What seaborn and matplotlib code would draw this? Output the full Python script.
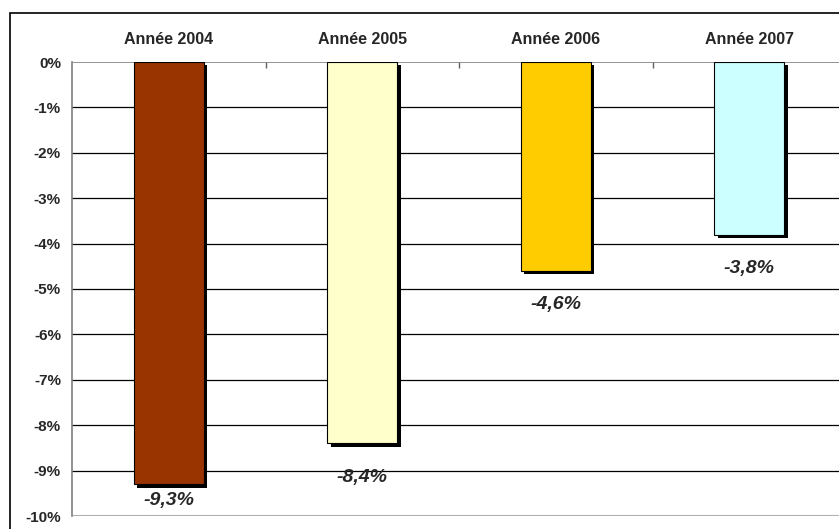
import matplotlib
matplotlib.use("Agg")
import matplotlib.pyplot as plt
import matplotlib.patheffects as pe
from matplotlib.patches import Rectangle
import seaborn as sns
import pandas as pd

categories = ["Année 2004", "Année 2005", "Année 2006", "Année 2007"]
values = [-9.3, -8.4, -4.6, -3.8]
colors = ["#993300", "#FFFFCC", "#FFCC00", "#CCFFFF"]
y_ticks = [0, -1, -2, -3, -4, -5, -6, -7, -8, -9, -10]

sns.set_style("white")
plt.rcParams["font.family"] = ["Liberation Sans", "DejaVu Sans"]

W, H = 839, 529
fig = plt.figure(figsize=(W / 100, H / 100), dpi=100)
ax = fig.add_axes([72 / W, 1 - 516 / H, 774 / W, (516 - 62) / H])

df = pd.DataFrame({"cat": categories, "val": values})
sns.barplot(data=df, x="cat", y="val", hue="cat", palette=colors,
            saturation=1, legend=False, width=0.36, edgecolor="black",
            linewidth=0.8, ax=ax, zorder=3)

for p in ax.patches:
    p.set_path_effects([pe.SimplePatchShadow(offset=(2.5, -2.5),
                                             shadow_rgbFace="black", alpha=1.0),
                        pe.Normal()])

ax.set_xlim(-0.5, 3.5)
ax.set_ylim(-10, 0)
ax.set_yticks(y_ticks)
ax.set_yticklabels([f"{t}%" for t in y_ticks], fontsize=11, fontweight="bold")

# horizontal gridlines
for t in y_ticks[1:-1]:
    ax.axhline(t, color="black", lw=0.9, zorder=1)
ax.axhline(-10, color="#b0b0b0", lw=1.5, zorder=1)
ax.axhline(0, color="#808080", lw=1.2, zorder=2)

ax.xaxis.tick_top()
ax.set_xticks(range(len(categories)))
ax.set_xticklabels(categories, fontsize=11.5, fontweight="bold")
ax.set_xticks([0.5, 1.5, 2.5, 3.5], minor=True)
ax.tick_params(axis="x", which="both", direction="in", length=4, width=1,
               color="#606060", pad=11)
ax.tick_params(axis="y", direction="out", length=5, width=1, color="#808080",
               pad=3)
ax.set_xlabel("")
ax.set_ylabel("")
for t in ax.xaxis.get_major_ticks():
    t.tick2line.set_zorder(5)

for s in ["top", "right", "bottom"]:
    ax.spines[s].set_visible(False)
ax.spines["left"].set_color("#808080")
ax.spines["left"].set_linewidth(1.2)

# value labels under each bar
for i, v in enumerate(values):
    y = max(v - 0.75, -9.65)
    ax.text(i, y, f"{v:.1f}%".replace(".", ","), ha="center", va="center",
            fontsize=14, fontweight="bold", fontstyle="italic", zorder=4)

# outer chart frame
fig.patches.append(Rectangle((10 / W, -0.1), 1.2, 1.1 - 13 / H,
                             transform=fig.transFigure, fill=False,
                             edgecolor="black", lw=1.2))

fig.savefig("out.png", dpi=100)
